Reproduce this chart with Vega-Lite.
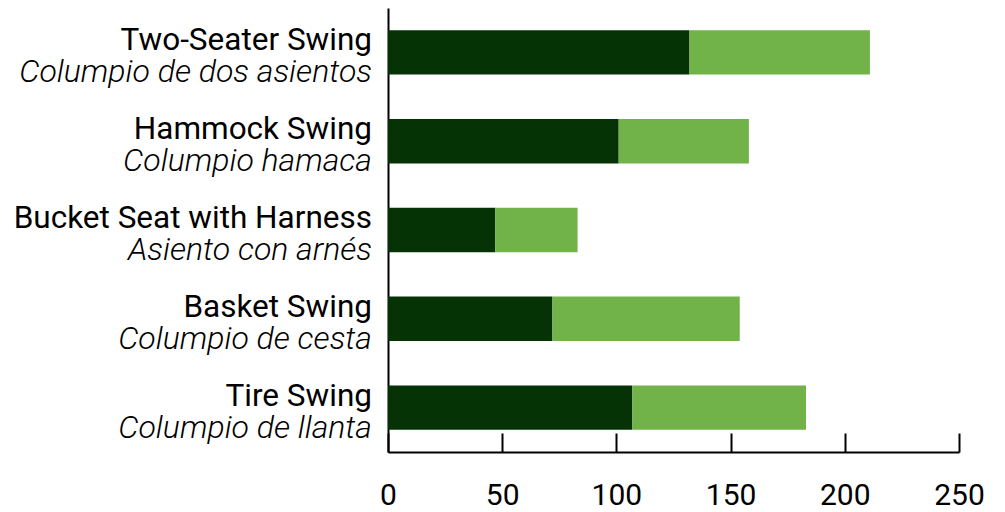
{
  "$schema": "https://vega.github.io/schema/vega-lite/v6.json",
  "width": 571,
  "height": 444,
  "autosize": {"type": "none"},
  "padding": {"left": 388, "top": 8, "right": 46, "bottom": 60},
  "config": {"view": {"stroke": null}, "font": "Roboto"},
  "datasets": {
    "bars": [
      {"swing": "Two-Seater Swing", "series": "A", "rank": 1, "value": 132},
      {"swing": "Two-Seater Swing", "series": "B", "rank": 2, "value": 79},
      {"swing": "Hammock Swing", "series": "A", "rank": 1, "value": 101},
      {"swing": "Hammock Swing", "series": "B", "rank": 2, "value": 57},
      {"swing": "Bucket Seat with Harness", "series": "A", "rank": 1, "value": 47},
      {"swing": "Bucket Seat with Harness", "series": "B", "rank": 2, "value": 36},
      {"swing": "Basket Swing", "series": "A", "rank": 1, "value": 72},
      {"swing": "Basket Swing", "series": "B", "rank": 2, "value": 82},
      {"swing": "Tire Swing", "series": "A", "rank": 1, "value": 107},
      {"swing": "Tire Swing", "series": "B", "rank": 2, "value": 76}
    ],
    "labels": [
      {"swing": "Two-Seater Swing", "es": "Columpio de dos asientos"},
      {"swing": "Hammock Swing", "es": "Columpio hamaca"},
      {"swing": "Bucket Seat with Harness", "es": "Asiento con arnés"},
      {"swing": "Basket Swing", "es": "Columpio de cesta"},
      {"swing": "Tire Swing", "es": "Columpio de llanta"}
    ]
  },
  "layer": [
    {
      "data": {"name": "bars"},
      "mark": {"type": "bar"},
      "encoding": {
        "y": {
          "field": "swing",
          "type": "nominal",
          "sort": ["Two-Seater Swing", "Hammock Swing", "Bucket Seat with Harness", "Basket Swing", "Tire Swing"],
          "scale": {"paddingInner": 0.5, "paddingOuter": 0.25},
          "axis": {"title": null, "labels": false, "ticks": false, "domainColor": "black", "domainWidth": 2}
        },
        "x": {
          "field": "value",
          "type": "quantitative",
          "stack": "zero",
          "scale": {"domain": [0, 250], "nice": false},
          "axis": {
            "title": null,
            "values": [0, 50, 100, 150, 200, 250],
            "grid": false,
            "tickSize": -19,
            "tickColor": "black",
            "tickWidth": 2,
            "domainColor": "black",
            "domainWidth": 2,
            "labelFont": "Roboto",
            "labelFontSize": 30,
            "labelColor": "black",
            "labelPadding": 47,
            "labelFlush": false
          }
        },
        "color": {
          "field": "series",
          "type": "nominal",
          "scale": {"domain": ["A", "B"], "range": ["#053305", "#71b349"]},
          "legend": null
        },
        "order": {"field": "rank", "type": "quantitative"}
      }
    },
    {
      "data": {"name": "labels"},
      "mark": {"type": "text", "align": "right", "baseline": "alphabetic", "dx": -16, "dy": -2, "font": "Roboto", "fontSize": 31.5, "color": "black"},
      "encoding": {
        "y": {"field": "swing", "type": "nominal", "sort": ["Two-Seater Swing", "Hammock Swing", "Bucket Seat with Harness", "Basket Swing", "Tire Swing"]},
        "x": {"datum": 0},
        "text": {"field": "swing"}
      }
    },
    {
      "data": {"name": "labels"},
      "mark": {"type": "text", "align": "right", "baseline": "alphabetic", "dx": -16, "dy": 30, "font": "Roboto", "fontSize": 32, "fontStyle": "italic", "fontWeight": 300, "color": "black"},
      "encoding": {
        "y": {"field": "swing", "type": "nominal", "sort": ["Two-Seater Swing", "Hammock Swing", "Bucket Seat with Harness", "Basket Swing", "Tire Swing"]},
        "x": {"datum": 0},
        "text": {"field": "es"}
      }
    }
  ]
}
